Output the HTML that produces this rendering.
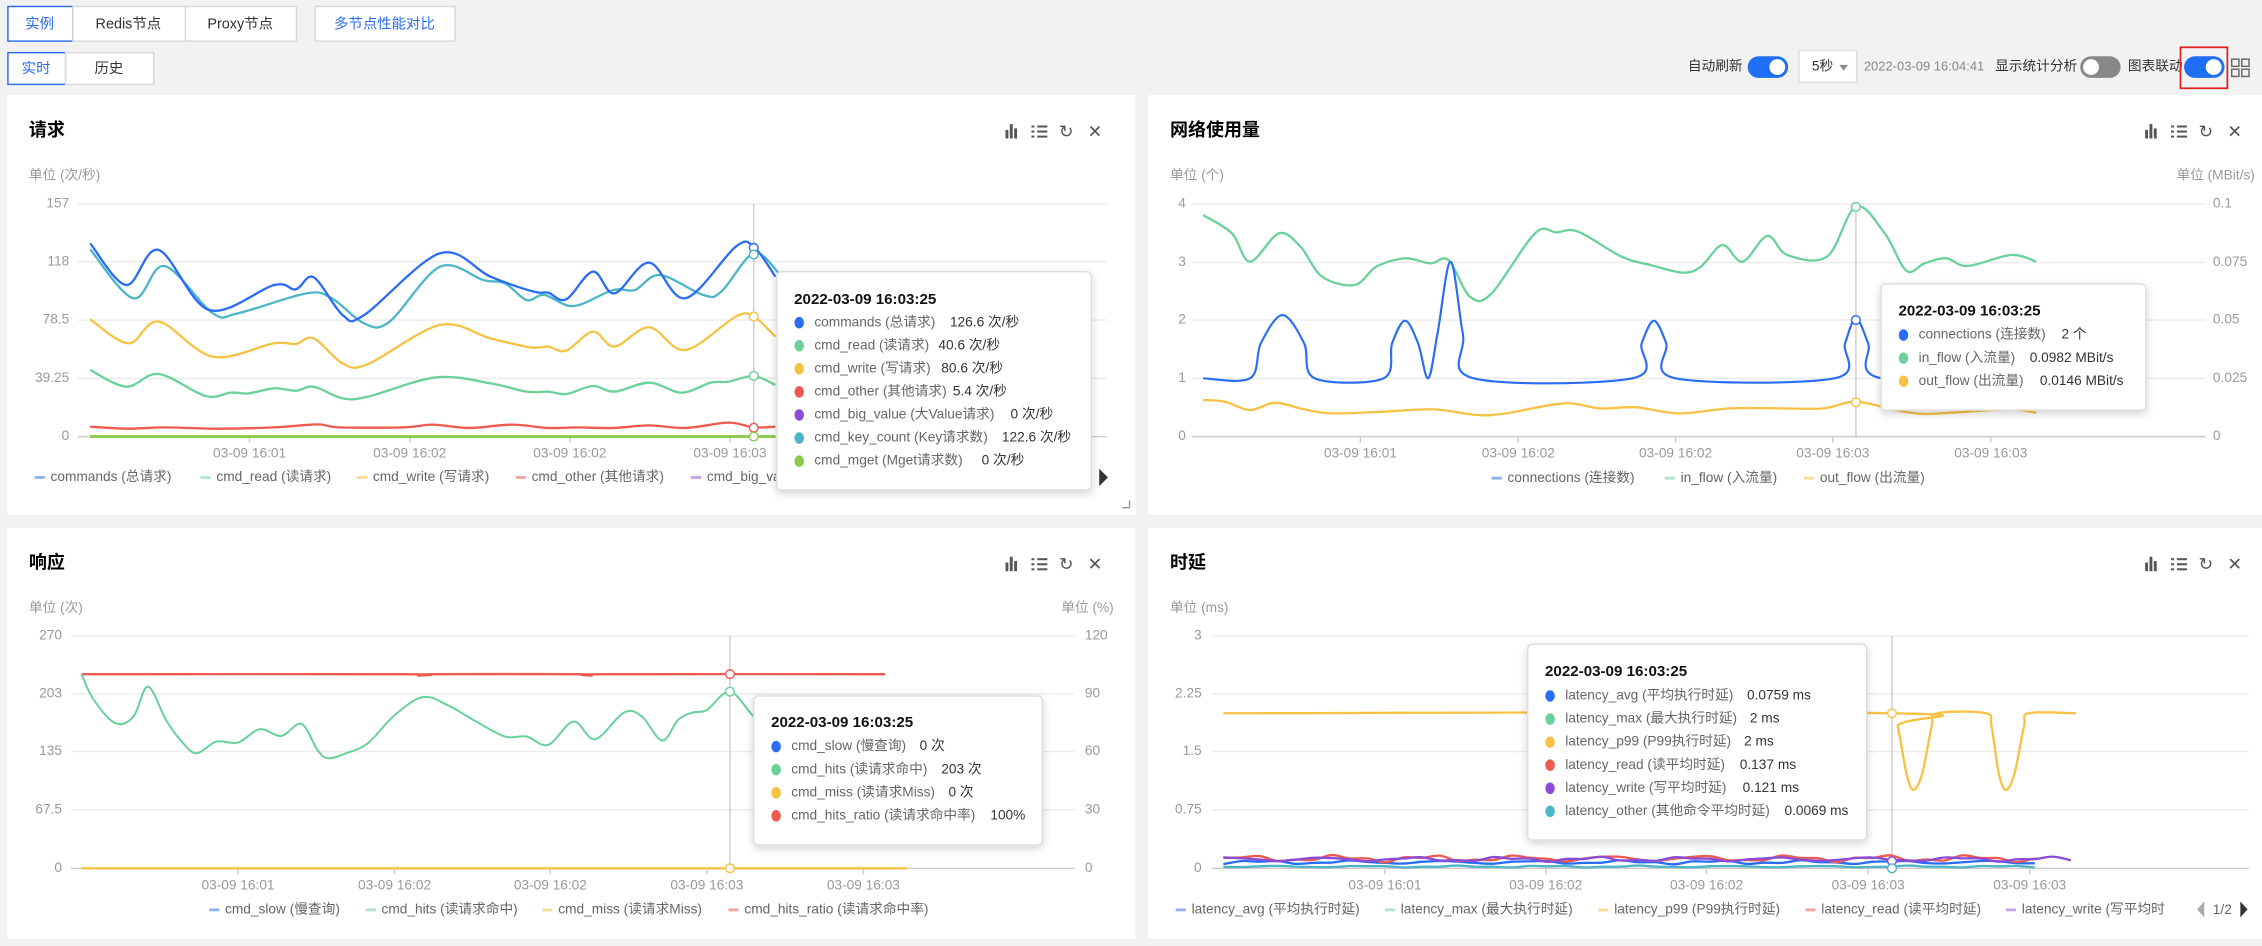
<!DOCTYPE html>
<html><head><meta charset="utf-8">
<style>
html,body{margin:0;padding:0;background:#f2f2f2;overflow:hidden;width:2262px;height:939px}
#wrap{position:absolute;left:0;top:0;width:1568px;height:651px;transform:scale(1.44260,1.44240);transform-origin:0 0}
svg text{font-family:"Liberation Sans","Noto Sans CJK SC",sans-serif}
</style></head><body>
<div id="wrap"><svg id="s" width="1568" height="651" viewBox="0 0 1568 651" xmlns="http://www.w3.org/2000/svg"></svg></div>
<script>
const S=[];
function cr(pts){let d=`M${pts[0][0].toFixed(1)},${pts[0][1].toFixed(1)}`;
 for(let i=0;i<pts.length-1;i++){const p0=pts[i-1]||pts[i],p1=pts[i],p2=pts[i+1],p3=pts[i+2]||p2,t=6;
 d+=` C${(p1[0]+(p2[0]-p0[0])/t).toFixed(1)},${(p1[1]+(p2[1]-p0[1])/t).toFixed(1)} ${(p2[0]-(p3[0]-p1[0])/t).toFixed(1)},${(p2[1]-(p3[1]-p1[1])/t).toFixed(1)} ${p2[0].toFixed(1)},${p2[1].toFixed(1)}`;}
 return d;}
const M={1:(x,y)=>[x*.5,62.4+y*.2311],2:(x,y)=>[784+x*.5,y*.2311],3:(x,y)=>[x*.5,291.1+y*.2311],4:(x,y)=>[784+x*.5,291.1+y*.2311]};
function line(p,arr,c,w){const pts=[];for(let i=0;i<arr.length;i+=2)pts.push(M[p](arr[i],arr[i+1]));S.push(`<path d="${cr(pts)}" fill="none" stroke="${c}" stroke-width="${w||1.4}" stroke-linejoin="round"/>`);}
function T(x,y,s,o){o=o||{};S.push(`<text x="${x}" y="${y}" font-size="${o.fs||10}" fill="${o.c||'#999'}" ${o.a?`text-anchor="${o.a}"`:''} ${o.b?'font-weight="bold"':''} dominant-baseline="middle">${s}</text>`);}
function R(x,y,w,h,f,o){o=o||{};S.push(`<rect x="${x}" y="${y}" width="${w}" height="${h}" fill="${f}" ${o.s?`stroke="${o.s}" stroke-width="${o.sw||1}"`:''} ${o.r?`rx="${o.r}"`:''} ${o.f?`filter="${o.f}"`:''}/>`);}
function L(x1,y1,x2,y2,c,w){S.push(`<line x1="${x1}" y1="${y1}" x2="${x2}" y2="${y2}" stroke="${c}" stroke-width="${w||1}"/>`);}
function circ(x,y,r,c,f){S.push(`<circle cx="${x}" cy="${y}" r="${r}" fill="${f||'#fff'}" stroke="${c}" stroke-width="1"/>`);}
const BL='#2b6cf6',GR='#6bd19b',YE='#f6c244',RD='#ee5a4f',PU='#8a4bd6',CY='#4cb5c8',LI='#8bcb4b';
S.push(`<defs><filter id="sh" x="-10%" y="-10%" width="120%" height="130%"><feDropShadow dx="0" dy="2" stdDeviation="3" flood-color="#000" flood-opacity="0.18"/></filter></defs>`);
function btn(x,y,w,h,t,sel,blue){R(x+.5,y+.5,w,h,'#fff',{s:sel?'#2b6cf6':'#d9d9d9'});T(x+w/2,y+h/2+1,t,{c:(sel||blue)?'#2b6cf6':'#333',a:'middle',fs:10});}
btn(5,4,45,24,'实例',1);btn(50,4,78,24,'Redis节点');btn(128,4,77,24,'Proxy节点');btn(218,4,97,24,'多节点性能对比',0,1);
btn(5,36,40,22,'实时',1);btn(45,36,61,22,'历史');
T(1170,46.5,'自动刷新',{c:'#333',fs:9.5});
function tog(x,on){R(x,39,28,15,on?'#1f6ff5':'#888',{r:7.5});S.push(`<circle cx="${on?x+20.5:x+7.5}" cy="46.5" r="5.5" fill="#fff"/>`);}
tog(1211.5,1);
R(1247,35,40,22,'#fff',{s:'#ddd'});T(1256,46.5,'5秒',{c:'#333',fs:9.5});S.push(`<path d="M1275,45 l6,0 l-3,4z" fill="#888"/>`);
T(1292,46.5,'2022-03-09 16:04:41',{c:'#888',fs:9});T(1383,46.5,'显示统计分析',{c:'#333',fs:9.5});
tog(1442,0);T(1475,46.5,'图表联动',{c:'#333',fs:9.5});tog(1514,1);
R(1511.5,32.8,32.5,28.4,'none',{s:'#e02020',sw:1.2});
[[1547,41],[1554,41],[1547,48],[1554,48]].forEach(p=>R(p[0],p[1],5,5,'none',{s:'#666',sw:1}));
function panel(x,y,w,h,title,ix){R(x,y,w,h,'#fff');T(x+15,y+25,title,{c:'#000',fs:12.5,b:1});
 const iy=y+25;
 [0,3,6].forEach((d,i)=>R(ix+d-1,iy+[ -1,-5,-2][i],2,[6,10,7][i],'#555'));
 for(let i=0;i<3;i++){R(ix+17,iy-4+i*3.5,2,1.4,'#555');R(ix+21,iy-4+i*3.5,7,1.4,'#555');}
 T(ix+41,iy+1,'↻',{c:'#555',fs:12,a:'middle'});T(ix+61,iy+1,'✕',{c:'#555',fs:12,a:'middle'});}
panel(5,66,782,291,'请求',698);panel(796,66,772,291,'网络使用量',1488);
panel(5,366,782,285,'响应',698);panel(796,366,772,285,'时延',1488);
function grid(x1,x2,ys,labs,lx,rlabs,rx){ys.forEach((y,i)=>{L(x1,y,x2,y,i==ys.length-1?'#ccc':'#ebebeb',1);T(lx,y,labs[i],{a:'end',fs:9.5});if(rlabs)T(rx,y,rlabs[i],{fs:9.5});});}
function ticks(xs,y){xs.forEach(x=>{L(x,y,x,y+4,'#ccc');T(x,y+12,'03-09 '+ticks.l.shift(),{a:'middle',fs:9.5});});}
T(20,122,'单位 (次/秒)',{fs:9.5});
grid(54,767,[141.4,181.4,221.9,262.3,302.7],['157','118','78.5','39.25','0'],48);
ticks.l=['16:01','16:02','16:02','16:03'];ticks([173,284,395,506],302.7);
L(522.5,141.4,522.5,302.7,'#ccc');
line(1,[125,1040,1075,1040],LI,2);
line(1,[125,1010,175,1016,230,1012,300,1016,380,1012,440,1003,470,1012,560,1012,600,1004,650,1014,710,1004,760,1014,800,1012,850,1014,900,1006,950,1014,1010,998,1045,1012,1075,1010],RD,1.6);
line(1,[125,840,175,890,220,852,285,918,320,908,345,910,380,895,410,902,435,890,475,925,510,920,605,862,680,880,730,905,760,905,785,912,822,888,852,905,900,878,945,908,985,878,1010,875,1045,858,1075,885],GR,1.6);
line(1,[125,688,178,760,220,695,295,800,380,760,410,762,435,745,475,820,510,822,610,705,680,745,735,772,760,770,785,782,822,725,852,770,900,712,950,780,1020,680,1045,680,1075,740],YE,1.6);
line(1,[125,478,185,625,228,528,295,670,330,670,425,610,460,625,505,700,540,695,610,530,670,570,700,580,730,630,755,615,795,648,850,600,880,600,915,555,975,615,1000,605,1045,490,1080,550],CY,1.6);
line(1,[125,460,175,585,220,480,290,660,380,585,410,598,435,562,475,675,505,675,610,490,680,560,740,605,760,608,785,628,822,545,852,610,900,518,950,625,1020,470,1045,470,1075,560],BL,1.6);
circ(522.5,171.8,3,BL);circ(522.5,176.5,3,CY);circ(522.5,219.5,3,YE);circ(522.5,260.6,3,GR);circ(522.5,296.5,3,RD);circ(522.5,302.7,3,LI);
function leg(items,y){items.forEach(it=>{L(it[0],y,it[0]+7,y,it[2],2);T(it[0]+11,y,it[1],{c:'#666',fs:9.5});});}
leg([[24,'commands (总请求)','#8fb0f7'],[139,'cmd_read (读请求)','#b0e6c8'],[247.5,'cmd_write (写请求)','#f9dc94'],[357.5,'cmd_other (其他请求)','#f4a59f'],[479,'cmd_big_value (大Value请求)','#c2a3ec']],331);
S.push(`<path d="M762,325 l6,6 l-6,6z" fill="#333"/>`);L(778,352,783,352,'#999');L(783,347,783,352,'#999');
function tip(x,y,w,h,title,rows){R(x,y,w,h,'#fff',{s:'#ddd',r:3,f:'url(#sh)'});T(x+12,rows.t,title,{c:'#111',fs:10.5,b:1});
 rows.r.forEach((r,i)=>{const yy=rows.y0+i*rows.dy;S.push(`<ellipse cx="${x+15.5}" cy="${yy}" rx="3.3" ry="4" fill="${r[0]}"/>`);T(x+26,yy,r[1],{c:'#666',fs:9.5});T(x+26+r[3],yy,r[2],{c:'#333',fs:9.5});});}
T(811,122,'单位 (个)',{fs:9.5});T(1563,122,'单位 (MBit/s)',{fs:9.5,a:'end'});
grid(826,1529,[141.4,182,221.9,262.3,302.7],['4','3','2','1','0'],822,['0.1','0.075','0.05','0.025','0'],1534);
ticks.l=['16:01','16:02','16:02','16:03','16:03'];ticks([943,1052.5,1161.5,1270.5,1380],302.7);
L(1286.5,141.4,1286.5,302.7,'#ccc');
line(2,[100,1200,130,1205,165,1230,200,1208,240,1228,280,1240,350,1235,420,1228,480,1245,520,1240,600,1210,650,1225,700,1222,760,1240,830,1225,900,1225,960,1225,1005,1205,1060,1230,1100,1242,1160,1235,1220,1228,1255,1238],YE,1.6);
line(2,[100,645,140,700,165,785,205,700,235,740,265,830,310,855,340,800,380,775,415,790,440,780,470,890,500,880,560,700,590,697,620,695,680,770,720,795,765,818,790,800,820,735,848,785,882,708,910,765,965,770,1005,620,1045,700,1075,812,1100,790,1130,775,1160,798,1220,765,1255,785],GR,1.6);
line(2,[100,1135,165,1135,180,1030,210,945,240,1030,255,1135,350,1135,362,1030,380,962,398,1030,412,1135,425,1000,443,785,460,1000,475,1135,695,1135,708,1030,725,962,742,1030,755,1135,975,1135,990,1030,1005,955,1022,1030,1040,1135,1255,1135],BL,1.5);
circ(1286.5,143.4,3,GR);circ(1286.5,221.9,3,BL);circ(1286.5,279,3,YE);
leg([[1034,'connections (连接数)','#8fb0f7'],[1154,'in_flow (入流量)','#b0e6c8'],[1250.5,'out_flow (出流量)','#f9dc94']],331.5);
T(20,421.7,'单位 (次)',{fs:9.5});T(772,421.7,'单位 (%)',{fs:9.5,a:'end'});
grid(49,745,[440.9,481,521,561.5,602],['270','203','135','67.5','0'],43,['120','90','60','30','0'],752);
ticks.l=['16:01','16:02','16:02','16:03','16:03'];ticks([165,273.5,381.5,490,598.5],602);
L(506,440.9,506,602,'#ccc');
line(3,[113,763,560,763,580,767,600,763,800,763,820,767,840,763,1227,763],RD,1.6);
line(3,[113,763,130,840,160,910,185,890,205,800,230,900,250,960,272,1000,300,965,330,968,360,928,390,948,418,912,440,990,455,1015,480,1000,510,970,545,890,585,832,620,855,660,905,700,950,730,950,760,975,795,905,825,958,865,878,890,890,918,962,940,900,960,878,980,870,1012,815,1045,890,1060,900],GR,1.4);
L(56.5,602,628.5,602,YE,1.6);
circ(506,467.4,3,RD);circ(506,479.5,3,GR);circ(506,602,3,YE);
leg([[145,'cmd_slow (慢查询)','#8fb0f7'],[253.5,'cmd_hits (读请求命中)','#b0e6c8'],[376,'cmd_miss (读请求Miss)','#f9dc94'],[505,'cmd_hits_ratio (读请求命中率)','#f4a59f']],630.8);
T(811,421.7,'单位 (ms)',{fs:9.5});
grid(840,1559,[440.9,481,521,561.5,602],['3','2.25','1.5','0.75','0'],833);
ticks.l=['16:01','16:02','16:02','16:03','16:03'];ticks([960,1071.5,1183,1295,1407],602);
L(1311.5,440.9,1311.5,602,'#ccc');
line(4,[128,880,1055,880,1063,920,1075,1060,1085,1110,1097,1060,1110,920,1118,880,1185,880,1193,920,1203,1060,1213,1110,1225,1060,1238,920,1245,880,1310,880],YE,1.6);
function noisy(base,amp,seed,end,c){const a=[];for(let x=128;x<=end;x+=25){a.push(x,base+amp*Math.sin(x*0.05+seed)+amp*0.6*Math.sin(x*0.13+seed*2));}line(4,a,c,1.6);}
noisy(1340,2,1,1275,CY);noisy(1327,4,2,1275,BL);noisy(1316,7,3,1275,RD);noisy(1318,5,4,1310,PU);
circ(1311.5,597,3,PU);circ(1311.5,602,3,CY);circ(1311.5,494.5,3,YE);
leg([[815,'latency_avg (平均执行时延)','#8fb0f7'],[960,'latency_max (最大执行时延)','#b0e6c8'],[1108,'latency_p99 (P99执行时延)','#f9dc94'],[1251.5,'latency_read (读平均时延)','#f4a59f'],[1390.5,'latency_write (写平均时','#c2a3ec']],630.8);
R(1505,620,55,22,'#fff');
S.push(`<path d="M1528,625 l-5,5.5 l5,5.5z" fill="#aaa"/><path d="M1553,625 l5,5.5 l-5,5.5z" fill="#333"/>`);T(1540.5,631,'1/2',{c:'#666',fs:9.5,a:'middle'});
tip(538.5,188.4,218,151.3,'2022-03-09 16:03:25',{t:208,y0:223.7,dy:16,r:[[BL,'commands (总请求)','126.6 次/秒',94],[GR,'cmd_read (读请求)','40.6 次/秒',86],[YE,'cmd_write (写请求)','80.6 次/秒',88],[RD,'cmd_other (其他请求)','5.4 次/秒',96],[PU,'cmd_big_value (大Value请求)','0 次/秒',136],[CY,'cmd_key_count (Key请求数)','122.6 次/秒',130],[LI,'cmd_mget (Mget请求数)','0 次/秒',116]]});
tip(1304,196.9,183.5,87.4,'2022-03-09 16:03:25',{t:216,y0:232.3,dy:16,r:[[BL,'connections (连接数)','2 个',99],[GR,'in_flow (入流量)','0.0982 MBit/s',77],[YE,'out_flow (出流量)','0.0146 MBit/s',84]]});
tip(522.5,482.5,200,103.3,'2022-03-09 16:03:25',{t:501.4,y0:517.6,dy:16,r:[[BL,'cmd_slow (慢查询)','0 次',89],[GR,'cmd_hits (读请求命中)','203 次',104],[YE,'cmd_miss (读请求Miss)','0 次',109],[RD,'cmd_hits_ratio (读请求命中率)','100%',138]]});
tip(1059,446.6,235,135.7,'2022-03-09 16:03:25',{t:466,y0:482.5,dy:16,r:[[BL,'latency_avg (平均执行时延)','0.0759 ms',126],[GR,'latency_max (最大执行时延)','2 ms',128],[YE,'latency_p99 (P99执行时延)','2 ms',124],[RD,'latency_read (读平均时延)','0.137 ms',121],[PU,'latency_write (写平均时延)','0.121 ms',123],[CY,'latency_other (其他命令平均时延)','0.0069 ms',152]]});
document.getElementById('s').innerHTML=S.join('');
</script>
</body></html>
